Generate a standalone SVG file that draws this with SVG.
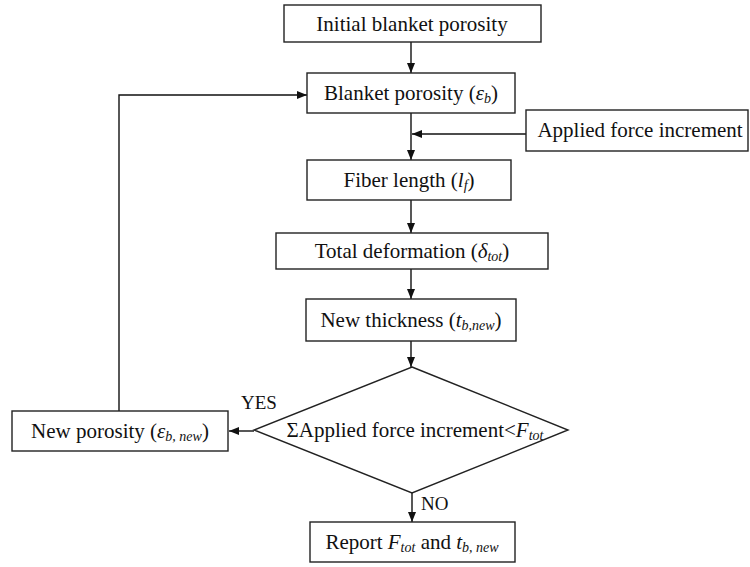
<svg xmlns="http://www.w3.org/2000/svg" width="750" height="567" viewBox="0 0 750 567">
<style>
.box{fill:#fff;stroke:#222;stroke-width:1.4}
.ln{fill:none;stroke:#111;stroke-width:1.4}
text{font-family:'Liberation Serif', 'DejaVu Serif', serif;font-size:21px;fill:#111}
.c{text-anchor:middle}
.i{font-style:italic}
.s{font-style:italic;font-size:14px}
</style>
<defs>
<marker id="ah" viewBox="0 0 10 10" refX="10" refY="5" markerWidth="10" markerHeight="10" markerUnits="userSpaceOnUse" orient="auto">
<path d="M0,1 L10,5 L0,9 Z" fill="#111"/>
</marker>
</defs>
<rect width="750" height="567" fill="#fff"/>
<g id="connectors">
<line class="ln" x1="411" y1="42" x2="411" y2="73" marker-end="url(#ah)"/>
<line class="ln" x1="411" y1="113" x2="411" y2="160" marker-end="url(#ah)"/>
<line class="ln" x1="526" y1="134" x2="412" y2="134" marker-end="url(#ah)"/>
<line class="ln" x1="411" y1="200" x2="411" y2="233" marker-end="url(#ah)"/>
<line class="ln" x1="411" y1="269" x2="411" y2="299" marker-end="url(#ah)"/>
<line class="ln" x1="411" y1="341" x2="411" y2="367" marker-end="url(#ah)"/>
<line class="ln" x1="254" y1="431" x2="229" y2="431" marker-end="url(#ah)"/>
<line class="ln" x1="412" y1="493" x2="412" y2="522" marker-end="url(#ah)"/>
<polyline class="ln" points="119,411 119,95 307,95" marker-end="url(#ah)"/>
<text x="241" y="409" style="font-size:19px">YES</text>
<text x="421" y="510" style="font-size:19px">NO</text>
</g>
<g id="n1">
<rect class="box" x="284" y="5" width="257" height="37"/>
<text class="c" x="412" y="31">Initial blanket porosity</text>
</g>
<g id="n2">
<rect class="box" x="307" y="73" width="208" height="40"/>
<text class="c" x="411" y="100">Blanket porosity (<tspan class="i">ε</tspan><tspan class="s" dy="3">b</tspan><tspan dy="-3">)</tspan></text>
</g>
<g id="n3">
<rect class="box" x="526" y="110" width="222" height="41"/>
<text class="c" x="640" y="137">Applied force increment</text>
</g>
<g id="n4">
<rect class="box" x="307" y="160" width="204" height="40"/>
<text class="c" x="409" y="187">Fiber length (<tspan class="i">l</tspan><tspan class="s" dy="3">f</tspan><tspan dy="-3">)</tspan></text>
</g>
<g id="n5">
<rect class="box" x="276" y="233" width="272" height="36"/>
<text class="c" x="412" y="258">Total deformation (<tspan class="i">δ</tspan><tspan class="s" dy="3">tot</tspan><tspan dy="-3">)</tspan></text>
</g>
<g id="n6">
<rect class="box" x="306" y="299" width="210" height="42"/>
<text class="c" x="411" y="327">New thickness (<tspan class="i">t</tspan><tspan class="s" dy="3">b,new</tspan><tspan dy="-3">)</tspan></text>
</g>
<g id="n7">
<polygon class="box" points="412,367 568,430 412,493 254,430"/>
<text class="c" x="415" y="437">ΣApplied force increment&lt;<tspan class="i">F</tspan><tspan class="s" dy="3">tot</tspan></text>
</g>
<g id="n8">
<rect class="box" x="12" y="411" width="216" height="40"/>
<text class="c" x="120" y="438">New porosity (<tspan class="i">ε</tspan><tspan class="s" dy="3">b, new</tspan><tspan dy="-3">)</tspan></text>
</g>
<g id="n9">
<rect class="box" x="310" y="522" width="205" height="40"/>
<text class="c" x="412" y="549">Report <tspan class="i">F</tspan><tspan class="s" dy="3">tot</tspan><tspan dy="-3"> and </tspan><tspan class="i">t</tspan><tspan class="s" dy="3">b, new</tspan></text>
</g>
</svg>
